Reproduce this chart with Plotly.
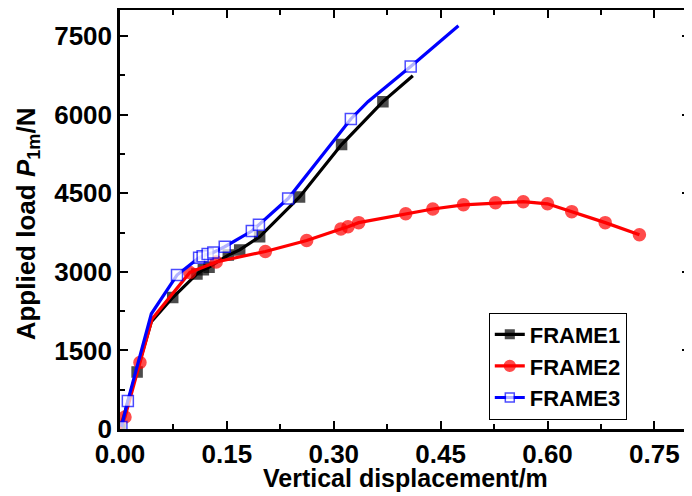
import plotly.graph_objects as go

# ---- data ----
frame1_x = [0.000, 0.024, 0.044, 0.074, 0.108, 0.117, 0.125, 0.152, 0.168, 0.196, 0.252, 0.311, 0.369, 0.411]
frame1_y = [0, 1090, 2050, 2510, 2960, 3040, 3090, 3320, 3420, 3670, 4430, 5430, 6250, 6745]
frame1_marked = [1, 1, 0, 1, 1, 1, 1, 1, 1, 1, 1, 1, 1, 0]

frame2_x = [0.000, 0.007, 0.028, 0.045, 0.098, 0.135, 0.204, 0.262, 0.310, 0.320, 0.335,
            0.401, 0.439, 0.482, 0.527, 0.566, 0.600, 0.634, 0.681, 0.729]
frame2_y = [0, 230, 1270, 2100, 2990, 3190, 3390, 3600, 3820, 3860, 3940,
            4110, 4200, 4280, 4320, 4340, 4300, 4150, 3940, 3710]
frame2_marked = [0, 1, 1, 0, 1, 1, 1, 1, 1, 1, 1, 1, 1, 1, 1, 1, 1, 1, 1, 1]

frame3_x = [0.002, 0.011, 0.044, 0.080, 0.111, 0.116, 0.123, 0.131, 0.147, 0.185, 0.195,
            0.236, 0.324, 0.348, 0.408, 0.475]
frame3_y = [40, 535, 2200, 2940, 3270, 3300, 3340, 3370, 3480, 3780, 3900,
            4400, 5920, 6250, 6920, 7700]
frame3_marked = [1, 1, 0, 1, 1, 1, 1, 1, 1, 1, 1, 1, 1, 0, 1, 0]

series_names = ["FRAME1", "FRAME2", "FRAME3"]
x_ticks = [0.00, 0.15, 0.30, 0.45, 0.60, 0.75]
y_ticks = [0, 1500, 3000, 4500, 6000, 7500]
x_title = "Vertical displacement/m"
y_title = "Applied load <i>P</i><sub>1m</sub>/N"

FONT = "Liberation Sans, Arial, sans-serif"

fig = go.Figure()

styles = [
    dict(color="#000000", symbol="square", fill="#000000", size=10),
    dict(color="#ff0000", symbol="circle", fill="#ff0000", size=12),
    dict(color="#0000ff", symbol="square", fill="#ffffff", size=11),
]
data = [(frame1_x, frame1_y, frame1_marked),
        (frame2_x, frame2_y, frame2_marked),
        (frame3_x, frame3_y, frame3_marked)]

for name, (xs, ys, mk), st in zip(series_names, data, styles):
    fig.add_trace(go.Scatter(
        x=xs, y=ys, name=name, mode="lines+markers",
        line=dict(color=st["color"], width=3.2),
        marker=dict(symbol=st["symbol"], color=st["fill"],
                    size=[st["size"] if m else 0 for m in mk],
                    line=dict(color=st["color"], width=1.5)),
    ))

axis_common = dict(
    showline=True, linecolor="black", linewidth=2.5, mirror="ticks",
    ticks="inside", ticklen=8, tickwidth=2, tickcolor="black",
    showgrid=False, zeroline=False, automargin=False,
    tickfont=dict(family=FONT, size=26, color="black", weight="bold"),
)

fig.update_xaxes(
    range=[0, 0.8], tickvals=x_ticks, tickformat=".2f",
    minor=dict(dtick=0.075, tick0=0, ticks="inside", ticklen=5, tickwidth=2, tickcolor="black"),
    **axis_common,
)
fig.update_yaxes(
    range=[0, 8000], tickvals=y_ticks, tickformat="d",
    minor=dict(dtick=750, tick0=0, ticks="inside", ticklen=5, tickwidth=2, tickcolor="black"),
    **axis_common,
)

title_font = dict(family=FONT, size=25, color="black", weight="bold")
fig.add_annotation(text=x_title, xref="paper", yref="paper", x=0.5, y=-0.153,
                   xanchor="center", yanchor="bottom", borderpad=0, showarrow=False,
                   font=title_font)
fig.add_annotation(text=y_title, xref="paper", yref="paper", x=-0.162, y=0.49,
                   xanchor="center", yanchor="middle", textangle=-90, showarrow=False,
                   font=dict(family=FONT, size=26, color="black", weight="bold"))

# the page body has an 8px default margin, so the figure is sized to fit the window
fig.update_layout(
    width=684, height=488,
    margin=dict(l=112, r=2, t=2, b=67, autoexpand=False),
    paper_bgcolor="white", plot_bgcolor="white",
    legend=dict(
        x=0.647, y=0.278, xanchor="left", yanchor="top",
        bgcolor="white", bordercolor="black", borderwidth=1,
        font=dict(family=FONT, size=22, color="black", weight="bold"),
        tracegroupgap=0,
    ),
)

fig.write_html("out.html")
